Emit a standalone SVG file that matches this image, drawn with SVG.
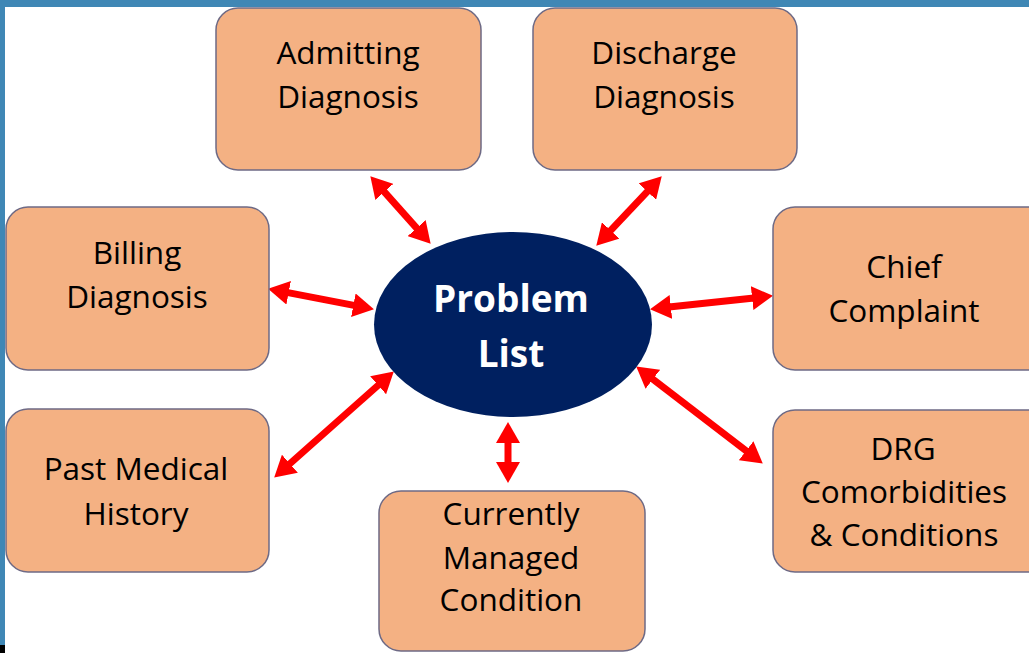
<svg xmlns="http://www.w3.org/2000/svg" width="1029" height="653" viewBox="0 0 1029 653">
<style>
.box{fill:#F4B183;stroke:#6E6A85;stroke-width:1.5}
.lbl{font-family:"Open Sans","Liberation Sans",sans-serif;font-size:31.5px;font-weight:500;fill:#000;text-anchor:middle}
.center{font-family:"Open Sans","Liberation Sans",sans-serif;font-size:37px;font-weight:bold;fill:#fff;text-anchor:middle}
.arr{stroke:#FF0000;stroke-width:7;fill:none;marker-start:url(#head);marker-end:url(#head)}
</style>
<defs>
<marker id="head" markerUnits="userSpaceOnUse" markerWidth="22" markerHeight="24" viewBox="0 0 22 24" refX="2" refY="12" orient="auto-start-reverse">
<path d="M0,0 L21,12 L0,24 z" fill="#FF0000"/>
</marker>
</defs>
<rect width="1029" height="653" fill="#fff"/>
<rect x="0" y="0" width="1029" height="7" fill="#3F87B5"/>
<rect x="0" y="0" width="5" height="645" fill="#3F87B5"/>
<rect x="0" y="645" width="5" height="8" fill="#000"/>

<g id="connectors">
<line class="arr" x1="383" y1="190.4" x2="418" y2="229.6"/>
<line class="arr" x1="648.7" y1="190.1" x2="609.3" y2="231.9"/>
<line class="arr" x1="286.7" y1="292.4" x2="355.3" y2="305.6"/>
<line class="arr" x1="668.9" y1="307.1" x2="754.1" y2="297.9"/>
<line class="arr" x1="288.4" y1="465" x2="379.6" y2="384"/>
<line class="arr" x1="651.3" y1="378" x2="747.7" y2="452"/>
<line class="arr" x1="508" y1="441" x2="508" y2="464"/>
</g>

<g id="admitting">
<rect class="box" x="216" y="8" width="265" height="162" rx="22"/>
<text class="lbl" x="348" y="64">Admitting</text>
<text class="lbl" x="348" y="108">Diagnosis</text>
</g>
<g id="discharge">
<rect class="box" x="533" y="8" width="264" height="162" rx="22"/>
<text class="lbl" x="664" y="64">Discharge</text>
<text class="lbl" x="664" y="108">Diagnosis</text>
</g>
<g id="billing">
<rect class="box" x="6" y="207" width="263" height="163" rx="22"/>
<text class="lbl" x="137" y="264">Billing</text>
<text class="lbl" x="137" y="308">Diagnosis</text>
</g>
<g id="chief">
<rect class="box" x="773" y="207" width="280" height="163" rx="22"/>
<text class="lbl" x="904" y="278">Chief</text>
<text class="lbl" x="904" y="322">Complaint</text>
</g>
<g id="pmh">
<rect class="box" x="6" y="409" width="263" height="163" rx="22"/>
<text class="lbl" x="136" y="480">Past Medical</text>
<text class="lbl" x="136" y="525">History</text>
</g>
<g id="drg">
<rect class="box" x="773" y="410" width="280" height="162" rx="22"/>
<text class="lbl" x="903" y="460">DRG</text>
<text class="lbl" x="904" y="503">Comorbidities</text>
<text class="lbl" x="904" y="546">&amp; Conditions</text>
</g>
<g id="current">
<rect class="box" x="379" y="491" width="266" height="160" rx="22"/>
<text class="lbl" x="511" y="525">Currently</text>
<text class="lbl" x="511" y="569">Managed</text>
<text class="lbl" x="511" y="611">Condition</text>
</g>
<g id="problem">
<ellipse cx="513" cy="324.5" rx="139" ry="92.5" fill="#002060"/>
<text class="center" x="511" y="312">Problem</text>
<text class="center" x="511" y="367">List</text>
</g>
</svg>
